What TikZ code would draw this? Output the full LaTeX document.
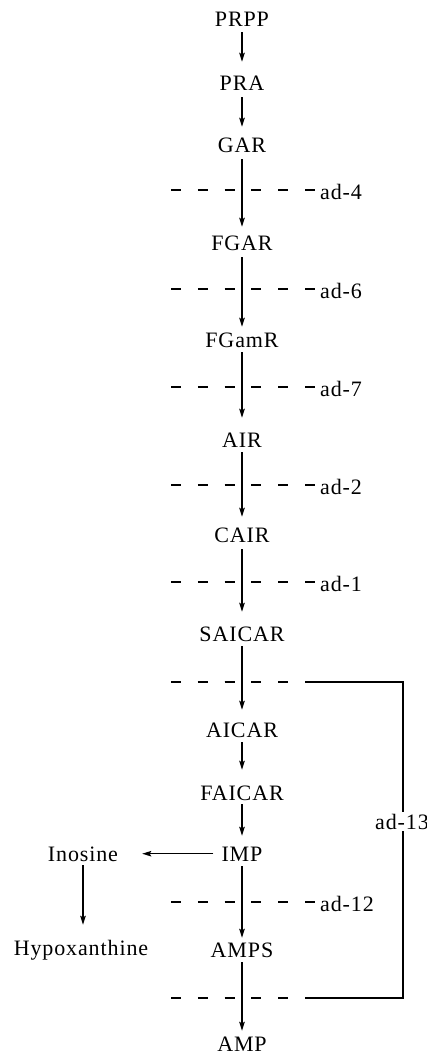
\documentclass[tikz,border=0pt]{standalone}
\usepackage{fontspec}
\setmainfont[LetterSpace=4]{Liberation Serif}
\usetikzlibrary{arrows.meta}
\tikzset{
  met/.style={inner sep=0pt, text height=14.6pt, text depth=0pt, font=\fontsize{22}{26}\selectfont, anchor=base},
  lab/.style={inner sep=0pt, text height=14.6pt, text depth=0pt, font=\fontsize{22}{26}\selectfont, anchor=base west},
  arr/.style={-{Stealth[length=9pt,width=5.5pt,inset=1.5pt]}, line width=1.3pt},
  blk/.style={line width=1.4pt, dash pattern=on 10pt off 16.8pt},
  bar/.style={line width=1.4pt}
}
\begin{document}
\begin{tikzpicture}[x=1pt,y=-1pt]
\useasboundingbox (0,0) rectangle (427,1054);
% metabolites
\node[met] (prpp) at (242,27) {PRPP};
\node[met] (pra) at (242,91) {PRA};
\node[met] (gar) at (242,152) {GAR};
\node[met] (fgar) at (242,250) {FGAR};
\node[met] (fgamr) at (242,347) {FGamR};
\node[met] (air) at (242,447) {AIR};
\node[met] (cair) at (242,542) {CAIR};
\node[met] (saicar) at (242,641) {SAICAR};
\node[met] (aicar) at (242,737) {AICAR};
\node[met] (faicar) at (242,800) {FAICAR};
\node[met] (imp) at (242,861) {IMP};
\node[met] (amps) at (242,957) {AMPS};
\node[met] (amp) at (242,1051) {AMP};
\node[met] (ino) at (83,861) {Inosine};
\node[met] (hypo) at (81,955) {Hypoxanthine};
% main arrows
\draw[arr, shorten <=5pt, shorten >=14.4pt] (prpp) -- (pra);
\draw[arr, shorten <=6pt, shorten >=10.4pt] (pra) -- (gar);
\draw[arr, shorten <=7pt, shorten >=8.4pt] (gar) -- (fgar);
\draw[arr, shorten <=7pt, shorten >=5.4pt] (fgar) -- (fgamr);
\draw[arr, shorten <=5pt, shorten >=14.4pt] (fgamr) -- (air);
\draw[arr, shorten <=5pt, shorten >=10.4pt] (air) -- (cair);
\draw[arr, shorten <=7pt, shorten >=14.4pt] (cair) -- (saicar);
\draw[arr, shorten <=5pt, shorten >=12.4pt] (saicar) -- (aicar);
\draw[arr, shorten <=5pt, shorten >=15.4pt] (aicar) -- (faicar);
\draw[arr, shorten <=4pt, shorten >=10.4pt] (faicar) -- (imp);
\draw[arr, shorten <=5pt, shorten >=4.4pt] (imp) -- (amps);
\draw[arr, shorten <=5pt, shorten >=5.4pt] (amps) -- (amp);
\draw[arr, shorten <=8pt, shorten >=24pt] (imp) -- (ino);
\draw[arr, shorten <=4pt, shorten >=15.4pt] (ino.south) -- (ino.south |- hypo.north);
% blocks
\node[lab] (l4) at (320,199) {ad-4};
\node[lab] (l6) at (320,298) {ad-6};
\node[lab] (l7) at (320,396) {ad-7};
\node[lab] (l2) at (320,494) {ad-2};
\node[lab] (l1) at (320,591) {ad-1};
\node[lab] (l12) at (320,911) {ad-12};
\node[met, fill=white, inner sep=2pt] (l13) at (402,829) {ad-13};
\coordinate (d4a) at (171,190); \coordinate (d4b) at (315,190);
\coordinate (d6a) at (171,289); \coordinate (d6b) at (315,289);
\coordinate (d7a) at (171,387); \coordinate (d7b) at (315,387);
\coordinate (d2a) at (171,485); \coordinate (d2b) at (315,485);
\coordinate (d1a) at (171,582); \coordinate (d1b) at (315,582);
\coordinate (d12a) at (171,902); \coordinate (d12b) at (315,902);
\coordinate (d13a) at (171,682); \coordinate (d13b) at (306,682); \coordinate (t13) at (403,682);
\coordinate (d13c) at (171,998); \coordinate (d13d) at (306,998); \coordinate (b13) at (403,998);
\draw[blk] (d13a) -- (d13b);
\draw[blk] (d4a) -- (d4b);
\draw[blk] (d6a) -- (d6b);
\draw[blk] (d7a) -- (d7b);
\draw[blk] (d2a) -- (d2b);
\draw[blk] (d1a) -- (d1b);
\draw[blk] (d12a) -- (d12b);
\draw[blk] (d13a) -- (d13a -| d4b);
\draw[blk] (d13c) -- (d13c -| d4b);
\draw[bar] (d13b) -- (t13) -- (t13 |- l13.north);
\draw[bar] (b13 |- l13.south) -- (b13) -- (d13d);
\end{tikzpicture}
\end{document}
